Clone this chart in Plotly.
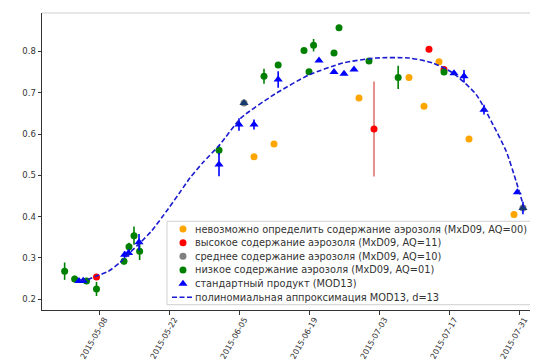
import plotly.graph_objects as go

# ---------------- data ----------------
ORANGE_DATES = ["2015-06-08", "2015-06-12", "2015-06-29", "2015-07-09",
                "2015-07-12", "2015-07-15", "2015-07-21", "2015-07-30"]
ORANGE_VALS = [0.545, 0.576, 0.687, 0.737, 0.667, 0.775, 0.588, 0.405]

RED_DATES = ["2015-05-07 12:00", "2015-07-02", "2015-07-13", "2015-07-16"]
RED_VALS = [0.254, 0.612, 0.805, 0.756]
RED_ERR = [0.0, 0.115, 0.0, 0.0]

GRAY_DATES = ["2015-06-06", "2015-07-31 19:00"]
GRAY_VALS = [0.675, 0.421]

GREEN_DATES = ["2015-05-01 03:00", "2015-05-03 03:00", "2015-05-05 12:00",
               "2015-05-07 12:00", "2015-05-13", "2015-05-14", "2015-05-15",
               "2015-05-16 03:00", "2015-06-01", "2015-06-10", "2015-06-12 20:00",
               "2015-06-18", "2015-06-19", "2015-06-19 22:00", "2015-06-24",
               "2015-06-25", "2015-07-01", "2015-07-06 20:00", "2015-07-16"]
GREEN_VALS = [0.268, 0.249, 0.244, 0.225, 0.292, 0.327, 0.354, 0.316, 0.561,
              0.740, 0.767, 0.802, 0.751, 0.815, 0.796, 0.857, 0.777, 0.737, 0.750]
GREEN_ERR = [0.021, 0.008, 0.005, 0.017, 0.008, 0.010, 0.022, 0.021, 0.012,
             0.018, 0.0, 0.0, 0.0, 0.015, 0.0, 0.0, 0.0, 0.028, 0.0]

BLUE_DATES = ["2015-05-04", "2015-05-04 20:00", "2015-05-13 03:00",
              "2015-05-13 22:00", "2015-05-16", "2015-06-01", "2015-06-05",
              "2015-06-06", "2015-06-08", "2015-06-12 20:00", "2015-06-21",
              "2015-06-24", "2015-06-26", "2015-06-28", "2015-07-18",
              "2015-07-20", "2015-07-24", "2015-07-30 16:00", "2015-07-31 19:00"]
BLUE_VALS = [0.244, 0.245, 0.308, 0.312, 0.338, 0.526, 0.623, 0.675, 0.623,
             0.732, 0.778, 0.750, 0.746, 0.756, 0.747, 0.740, 0.659, 0.459, 0.421]
BLUE_ERR = [0.0, 0.0, 0.008, 0.008, 0.020, 0.028, 0.015, 0.0, 0.012,
            0.020, 0.0, 0.0, 0.0, 0.0, 0.0, 0.015, 0.012, 0.0, 0.015]
BLUE_OVERLAP = [False, False, False, False, False, False, False, True, False,
                False, False, False, False, False, False, False, False, False, True]

FIT_DATES = ["2015-05-04 05:00", "2015-05-05 19:00", "2015-05-07 10:00",
             "2015-05-09 19:00", "2015-05-12 05:00", "2015-05-14", "2015-05-16",
             "2015-05-18 10:00", "2015-05-21 19:00", "2015-05-24 10:00",
             "2015-05-26 05:00", "2015-05-28 19:00", "2015-06-01 05:00",
             "2015-06-05 10:00", "2015-06-12 05:00", "2015-06-19",
             "2015-06-25 19:00", "2015-07-02 10:00", "2015-07-09",
             "2015-07-13 19:00", "2015-07-17 19:00", "2015-07-22 10:00",
             "2015-07-25 19:00", "2015-07-28 10:00", "2015-07-30 10:00",
             "2015-08-01"]
FIT_VALS = [0.246, 0.248, 0.256, 0.267, 0.289, 0.311, 0.334, 0.364, 0.418,
            0.463, 0.494, 0.531, 0.575, 0.639, 0.697, 0.743, 0.772, 0.784,
            0.784, 0.772, 0.748, 0.696, 0.623, 0.559, 0.486, 0.422]

X_TICKS = ["2015-05-08", "2015-05-22", "2015-06-05", "2015-06-19",
           "2015-07-03", "2015-07-17", "2015-07-31"]
Y_TICKS = [0.2, 0.3, 0.4, 0.5, 0.6, 0.7, 0.8]
Y_TICK_TEXT = ["0.2", "0.3", "0.4", "0.5", "0.6", "0.7", "0.8"]

LEGEND_LABELS = [
    "невозможно определить содержание аэрозоля (MxD09, AQ=00)",
    "высокое содержание аэрозоля (MxD09, AQ=11)",
    "среднее содержание аэрозоля (MxD09, AQ=10)",
    "низкое содержание аэрозоля (MxD09, AQ=01)",
    "стандартный продукт (MOD13)",
    "полиномиальная аппроксимация MOD13, d=13",
]

# ---------------- styles ----------------
C_ORANGE = "#ffa500"
C_RED = "#ff0000"
C_GRAY = "#808080"
C_GREEN = "#008000"
C_BLUE = "#0000ff"
C_DARK = "#173a6e"
C_FIT = "#1a1ad0"
FONT = "DejaVu Sans"
TXT = "#333333"

fig = go.Figure()

fig.add_trace(go.Scatter(x=ORANGE_DATES, y=ORANGE_VALS, mode="markers",
                         marker=dict(color=C_ORANGE, size=7), showlegend=False))
fig.add_trace(go.Scatter(x=RED_DATES, y=RED_VALS, mode="markers",
                         marker=dict(color=C_RED, size=7),
                         error_y=dict(type="data", array=RED_ERR, color="#d9534f",
                                      thickness=1.3, width=0),
                         showlegend=False))
fig.add_trace(go.Scatter(x=GRAY_DATES, y=GRAY_VALS, mode="markers",
                         marker=dict(color=C_GRAY, size=7), showlegend=False))
fig.add_trace(go.Scatter(x=GREEN_DATES, y=GREEN_VALS, mode="markers",
                         marker=dict(color=C_GREEN, size=7),
                         error_y=dict(type="data", array=GREEN_ERR, color=C_GREEN,
                                      thickness=1.6, width=0),
                         showlegend=False))
fig.add_trace(go.Scatter(x=BLUE_DATES, y=BLUE_VALS, mode="markers",
                         marker=dict(color=[C_DARK if o else C_BLUE for o in BLUE_OVERLAP],
                                     size=8, symbol="triangle-up"),
                         error_y=dict(type="data", array=BLUE_ERR, color=C_BLUE,
                                      thickness=1.6, width=0),
                         showlegend=False))
fig.add_trace(go.Scatter(x=FIT_DATES, y=FIT_VALS, mode="lines",
                         line=dict(color=C_FIT, width=1.6, dash="5px,2.5px",
                                   shape="spline", smoothing=0.6),
                         showlegend=False))

# ---------------- legend (matplotlib-like, compact) ----------------
LEG_X0, LEG_X1, LEG_Y0, LEG_Y1 = 0.2495, 0.9926, 0.0178, 0.2987
row_y = [0.2727, 0.2266, 0.1808, 0.1347, 0.0886, 0.0428]
mark_x = 0.2814
text_x = 0.3062

shapes = [
    dict(type="rect", xref="paper", yref="paper", x0=LEG_X0, x1=LEG_X1,
         y0=LEG_Y0, y1=LEG_Y1, fillcolor="rgba(255,255,255,0.85)",
         line=dict(color="#d0d0d0", width=1), layer="below"),
    dict(type="line", xref="paper", yref="paper", x0=0, x1=1, y0=1, y1=1,
         line=dict(color="#cfcfcf", width=1)),
    dict(type="line", xref="paper", yref="paper", x0=1, x1=1, y0=0, y1=1,
         line=dict(color="#cfcfcf", width=1)),
]

leg_colors = [C_ORANGE, C_RED, C_GRAY, C_GREEN]
fig.add_trace(go.Scatter(x=[mark_x] * 4, y=row_y[:4], mode="markers",
                         marker=dict(color=leg_colors, size=7),
                         xaxis="x2", yaxis="y2", showlegend=False, hoverinfo="skip"))
fig.add_trace(go.Scatter(x=[mark_x], y=[row_y[4]], mode="markers",
                         marker=dict(color=C_BLUE, size=8, symbol="triangle-up"),
                         xaxis="x2", yaxis="y2", showlegend=False, hoverinfo="skip"))
fig.add_trace(go.Scatter(x=[0.2595, 0.3010], y=[row_y[5], row_y[5]], mode="lines",
                         line=dict(color=C_FIT, width=1.6, dash="5px,2.5px"),
                         xaxis="x2", yaxis="y2", showlegend=False, hoverinfo="skip"))

annotations = []
for lbl, yy in zip(LEGEND_LABELS, row_y):
    annotations.append(dict(xref="paper", yref="paper", x=text_x, y=yy, text=lbl,
                            showarrow=False, xanchor="left", yanchor="middle",
                            borderpad=0, borderwidth=0,
                            font=dict(family=FONT, size=9.8, color=TXT)))

# x tick labels, rotated 60 degrees and centred under their ticks (matplotlib style)
for t in X_TICKS:
    annotations.append(dict(xref="x", yref="paper", x=t, y=-0.02, text=t,
                            textangle=-60, showarrow=False,
                            xanchor="center", yanchor="top", xshift=-5,
                            borderpad=0, borderwidth=0,
                            font=dict(family=FONT, size=8, color=TXT)))

fig.update_layout(
    width=538, height=361,
    margin=dict(l=34, r=3, t=5, b=59),
    paper_bgcolor="white", plot_bgcolor="white",
    font=dict(family=FONT, size=8.5, color=TXT),
    showlegend=False,
    shapes=shapes,
    annotations=annotations,
    xaxis=dict(type="date", range=["2015-04-26 14:24", "2015-08-04 19:12"],
               tickmode="array", tickvals=X_TICKS, showticklabels=False,
               ticks="outside", ticklen=3.5, tickwidth=1,
               tickcolor="#333", showline=True, linecolor="#333", linewidth=1,
               showgrid=False, zeroline=False, automargin=False),
    yaxis=dict(range=[0.174, 0.893], tickmode="array", tickvals=Y_TICKS,
               ticktext=Y_TICK_TEXT, ticks="outside", ticklen=3.5, tickwidth=1,
               tickcolor="#333", showline=True, linecolor="#333", linewidth=1,
               showgrid=False, zeroline=False, automargin=False,
               tickfont=dict(family=FONT, size=8.5, color=TXT)),
    xaxis2=dict(overlaying="x", anchor="y2", range=[0, 1], visible=False),
    yaxis2=dict(overlaying="y", anchor="x2", range=[0, 1], visible=False),
)

fig.write_html("out.html")
